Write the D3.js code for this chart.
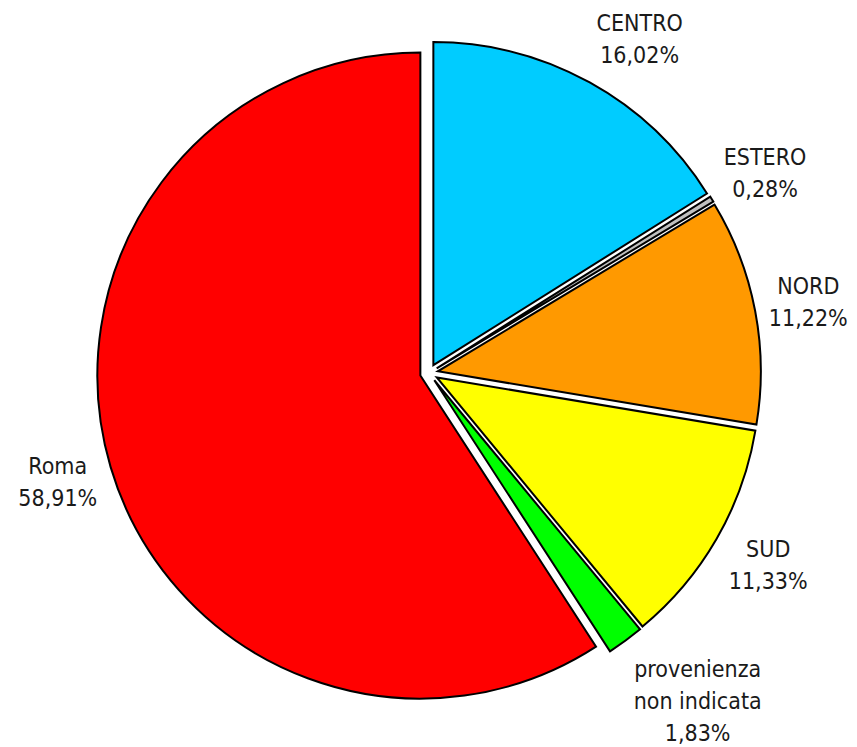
<!DOCTYPE html>
<html>
<head>
<meta charset="utf-8">
<script src="https://d3js.org/d3.v7.min.js"></script>
<style>
  body { margin: 0; background: #fff; }
  svg { display: block; }
  .lbl { font-family: "DejaVu Sans Condensed", "DejaVu Sans", sans-serif; font-stretch: condensed; font-size: 23px; fill: #1a1a1a; }
</style>
</head>
<body>
<div id="chart"></div>
<script>
var categories = ['CENTRO', 'ESTERO', 'NORD', 'SUD', 'provenienza non indicata', 'Roma'];
var labelLines = [['CENTRO'], ['ESTERO'], ['NORD'], ['SUD'], ['provenienza', 'non indicata'], ['Roma']];
var values = [16.02, 0.28, 11.22, 11.33, 1.83, 58.91];
var colors = ['#00ccff', '#c0c0c0', '#ff9900', '#ffff00', '#00ff00', '#ff0000'];

var width = 857, height = 747;
var cx = 429, cy = 373, radius = 323, explode = 9;
var anchorR = 346, lineH = 32, capH = 17;

var svg = d3.select('#chart').append('svg')
    .attr('width', width).attr('height', height)
    .attr('viewBox', '0 0 ' + width + ' ' + height);

var g = svg.append('g').attr('transform', 'translate(' + cx + ',' + cy + ')');

var pie = d3.pie().sort(null).startAngle(0).endAngle(2 * Math.PI).value(function(d) { return d; });
var arc = d3.arc().innerRadius(0).outerRadius(radius);
var arcs = pie(values);

function mid(d) { return (d.startAngle + d.endAngle) / 2; }

g.selectAll('path.slice')
  .data(arcs)
  .enter().append('path')
  .attr('class', 'slice')
  .attr('d', arc)
  .attr('transform', function(d) {
      var a = mid(d);
      return 'translate(' + (explode * Math.sin(a)) + ',' + (-explode * Math.cos(a)) + ')';
  })
  .style('fill', function(d, i) { return colors[i]; })
  .attr('stroke', '#000')
  .attr('stroke-width', 2)
  .attr('stroke-linejoin', 'miter');

var fmt = function(v) { return d3.format('.2f')(v).replace('.', ',') + '%'; };

// outside-end labels: box hangs off an anchor point on the mid angle, pushed outward
g.selectAll('text.lbl')
  .data(arcs)
  .enter().append('text')
  .attr('class', 'lbl')
  .attr('text-anchor', 'middle')
  .each(function(d, i) {
      var lines = labelLines[i].concat([fmt(values[i])]);
      var t = d3.select(this);
      var spans = lines.map(function(s) { return t.append('tspan').text(s); });
      var w = d3.max(spans, function(s) { return s.node().getComputedTextLength(); });
      var h = capH + (lines.length - 1) * lineH;
      var a = mid(d);
      var px = anchorR * Math.sin(a), py = -anchorR * Math.cos(a);
      var x = px + (Math.sin(a) >= 0 ? 1 : -1) * w / 2;
      var y = py - 1.5 * Math.cos(a) * h / 2;
      var y0 = y - h / 2 + capH;
      spans.forEach(function(s, k) {
          s.attr('x', x).attr('y', y0 + k * lineH);
      });
  });
</script>
</body>
</html>
